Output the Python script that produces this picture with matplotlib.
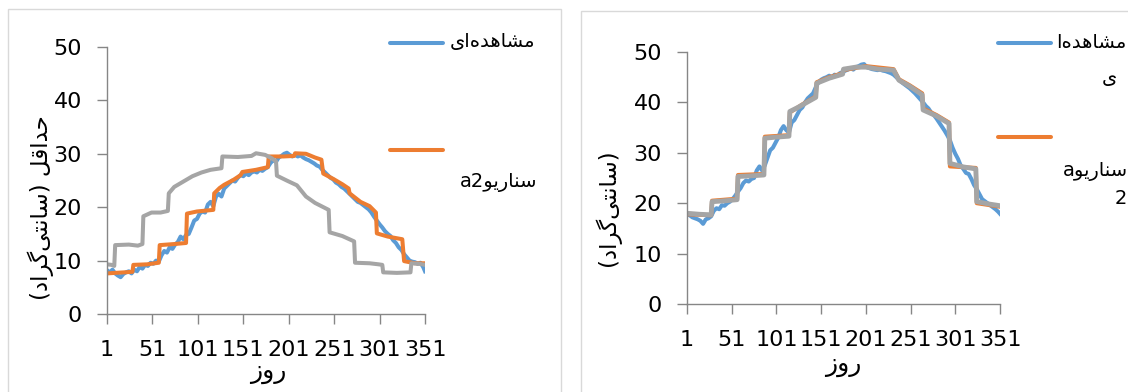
import matplotlib
matplotlib.use("Agg")
import matplotlib.pyplot as plt
from matplotlib.lines import Line2D
from matplotlib.patches import Rectangle

W, H = 1128, 392

BLUE = "#5B9BD5"
ORANGE = "#ED7D31"
GRAY = "#A5A5A5"
AXIS = "#868686"

# observed daily minimum (left) and maximum (right), sampled every 3 days
obs_days = list(range(1, 350, 3)) + [351]
obs_min = [
    8.2, 7.8, 8.3, 7.6, 7.2, 6.9, 7.5, 7.8, 8.0, 7.6,
    8.3, 8.0, 8.8, 8.5, 9.2, 9.0, 9.6, 9.4, 10.0, 9.8,
    11.0, 11.8, 11.5, 12.5, 12.2, 13.0, 13.5, 14.5, 14.0, 14.8,
    15.0, 16.2, 17.5, 17.8, 18.8, 19.2, 19.0, 20.5, 21.0, 20.2,
    22.0, 22.5, 22.0, 23.5, 24.0, 24.5, 25.0, 24.8, 25.5, 26.0,
    25.8, 26.3, 26.0, 26.5, 26.7, 26.5, 27.0, 26.8, 27.2, 27.5,
    28.3, 28.8, 28.5, 29.3, 29.6, 30.0, 30.2, 29.8, 29.5, 29.8,
    29.5, 29.7, 29.3, 29.0, 28.8, 28.5, 28.2, 27.8, 27.6, 27.0,
    26.5, 26.0, 25.5, 25.2, 24.6, 24.3, 23.8, 23.5, 23.0, 22.5,
    22.0, 21.5, 21.0, 20.8, 20.4, 20.0, 19.6, 19.0, 18.2, 17.5,
    16.8, 16.2, 15.5, 15.0, 14.6, 13.8, 13.3, 12.5, 12.0, 11.2,
    10.6, 10.0, 9.8, 9.7, 9.4, 9.6, 8.8, 8.0,
]
obs_max = [
    17.8, 17.6, 17.2, 17.0, 16.8, 16.5, 15.9, 16.8, 17.0, 17.4,
    18.5, 19.0, 18.8, 19.6, 19.5, 20.0, 20.3, 20.8, 21.5, 22.3,
    23.0, 24.0, 24.5, 24.3, 24.8, 25.0, 26.5, 27.3, 26.5, 27.5,
    29.0, 30.5, 31.0, 32.0, 33.0, 34.5, 35.3, 34.5, 34.0, 36.0,
    36.5, 37.5, 38.5, 39.0, 40.0, 40.8, 41.3, 41.8, 43.0, 44.0,
    44.5, 44.8, 45.0, 45.3, 45.0, 45.5, 45.3, 45.8, 46.0, 46.3,
    46.5, 46.8, 46.5, 47.0, 47.2, 47.5, 47.6, 47.0, 46.8, 46.6,
    46.5, 46.4, 46.5, 46.3, 46.2, 46.0, 45.8, 45.5, 45.0, 44.5,
    44.0, 43.6, 43.2, 42.8, 42.3, 41.8, 41.2, 40.6, 40.0, 39.3,
    38.8, 38.0, 37.5, 36.8, 36.0, 35.2, 34.4, 33.5, 32.5, 31.0,
    29.8, 28.8, 27.5, 26.8, 26.0, 25.8, 24.8, 23.6, 22.8, 21.8,
    20.8, 20.4, 20.0, 19.6, 19.2, 18.8, 18.3, 17.9,
]

# scenario a2, minimum
a2_min_days = [1, 10, 20, 29, 30, 45, 58, 59, 75, 88, 89, 100, 118, 119, 125,
               130, 140, 148, 150, 165, 178, 179, 195, 207, 208, 220, 230, 237,
               239, 250, 260, 267, 268, 280, 290, 297, 298, 310, 326, 328, 340, 351]
a2_min = [7.6, 7.7, 7.8, 7.9, 9.2, 9.3, 9.6, 12.9, 13.1, 13.3, 18.8, 19.2, 19.5,
          22.6, 23.6, 24.2, 25.1, 26.0, 26.6, 27.0, 27.5, 29.5, 29.5, 29.6, 30.1,
          30.0, 29.3, 28.9, 26.3, 25.3, 24.3, 23.5, 22.6, 21.0, 20.2, 19.0, 15.1,
          14.5, 14.0, 9.9, 9.5, 9.5]

# third series, minimum
s3_min_days = [1, 6, 9, 10, 25, 35, 40, 41, 50, 60, 68, 69, 75, 85, 95, 105, 115,
               127, 128, 145, 160, 165, 175, 182, 187, 188, 200, 210, 220, 230,
               245, 246, 260, 273, 274, 290, 300, 304, 305, 320, 335, 336, 345, 351]
s3_min = [9.3, 9.2, 9.0, 12.9, 13.0, 12.8, 13.1, 18.3, 19.0, 19.0, 19.3, 22.6,
          23.8, 24.8, 25.8, 26.5, 27.0, 27.3, 29.5, 29.4, 29.6, 30.1, 29.8, 29.2,
          28.6, 25.9, 24.9, 24.1, 22.0, 20.8, 19.5, 15.3, 14.6, 13.6, 9.6, 9.5,
          9.3, 9.2, 7.8, 7.7, 7.8, 9.5, 9.4, 9.2]

# scenario a2, maximum
a2_max_days = [1, 28, 29, 57, 58, 87, 88, 115, 116, 130, 145, 146, 160, 175, 176,
               201, 232, 238, 250, 264, 265, 280, 294, 295, 324, 325, 351]
a2_max = [17.8, 17.6, 20.5, 20.9, 25.6, 25.8, 33.2, 33.5, 38.0, 39.6, 41.2, 44.0,
          45.0, 45.8, 46.4, 47.2, 46.6, 44.6, 43.4, 41.8, 38.8, 37.5, 36.0, 27.3,
          27.0, 20.0, 19.3]

# third series, maximum
s3_max_days = [1, 15, 28, 29, 45, 57, 58, 70, 87, 88, 100, 115, 116, 125, 135,
               145, 146, 160, 175, 176, 190, 201, 215, 232, 238, 250, 264, 265,
               280, 294, 295, 310, 324, 325, 340, 351]
s3_max = [18.0, 17.8, 17.7, 20.3, 20.5, 20.7, 25.3, 25.4, 25.6, 32.9, 33.1, 33.3,
          38.2, 39.0, 40.0, 41.0, 43.8, 44.8, 45.6, 46.6, 47.0, 47.0, 46.6, 46.4,
          44.4, 43.2, 41.5, 38.5, 37.3, 35.8, 27.9, 27.2, 26.8, 20.3, 19.8, 19.5]

x_ticks = [1, 51, 101, 151, 201, 251, 301, 351]
y_ticks = [0, 10, 20, 30, 40, 50]

# presentation forms: isolated, final, initial, medial
FORMS = {
    "ا": ("\uFE8D", "\uFE8E", None, None),
    "د": ("\uFEA9", "\uFEAA", None, None),
    "ر": ("\uFEAD", "\uFEAE", None, None),
    "ز": ("\uFEAF", "\uFEB0", None, None),
    "و": ("\uFEED", "\uFEEE", None, None),
    "س": ("\uFEB1", "\uFEB2", "\uFEB3", "\uFEB4"),
    "ش": ("\uFEB5", "\uFEB6", "\uFEB7", "\uFEB8"),
    "م": ("\uFEE1", "\uFEE2", "\uFEE3", "\uFEE4"),
    "ه": ("\uFEE9", "\uFEEA", "\uFEEB", "\uFEEC"),
    "ن": ("\uFEE5", "\uFEE6", "\uFEE7", "\uFEE8"),
    "ت": ("\uFE95", "\uFE96", "\uFE97", "\uFE98"),
    "ی": ("\uFEEF", "\uFEF0", "\uFEF3", "\uFEF4"),
    "گ": ("\uFB92", "\uFB93", "\uFB94", "\uFB95"),
    "ق": ("\uFED5", "\uFED6", "\uFED7", "\uFED8"),
    "ل": ("\uFEDD", "\uFEDE", "\uFEDF", "\uFEE0"),
    "ح": ("\uFEA1", "\uFEA2", "\uFEA3", "\uFEA4"),
}
MIRROR = {"(": ")", ")": "("}


def rtl(s):
    out = []
    for i, c in enumerate(s):
        if c == "\u200c":
            continue
        if c not in FORMS:
            out.append(MIRROR.get(c, c))
            continue
        prev = s[i - 1] if i > 0 else ""
        nxt = s[i + 1] if i + 1 < len(s) else ""
        dual = FORMS[c][2] is not None
        join_prev = prev in FORMS and FORMS[prev][2] is not None
        join_next = dual and nxt in FORMS
        if join_prev and join_next:
            out.append(FORMS[c][3])
        elif join_prev:
            out.append(FORMS[c][1])
        elif join_next:
            out.append(FORMS[c][2])
        else:
            out.append(FORMS[c][0])
    return "".join(reversed(out))


plt.rcParams["font.family"] = ["DejaVu Sans"]
fig = plt.figure(figsize=(W / 100, H / 100), dpi=100)


def fx(px):
    return px / W


def fy(py):
    return 1 - py / H


def panel(left, right, top, bottom):
    ax = fig.add_axes([fx(left), fy(bottom), (right - left) / W, (bottom - top) / H])
    ax.set_xlim(1, 351)
    ax.set_ylim(0, 50)
    ax.set_xticks(x_ticks)
    ax.set_yticks(y_ticks)
    for side in ["top", "right"]:
        ax.spines[side].set_visible(False)
    for side in ["left", "bottom"]:
        ax.spines[side].set_color(AXIS)
        ax.spines[side].set_linewidth(1)
    ax.tick_params(axis="both", direction="out", length=7, width=1,
                   color=AXIS, labelsize=16, labelcolor="#000000")
    ax.tick_params(axis="y", pad=11)
    ax.tick_params(axis="x", pad=12)
    return ax


lw = 2.9

ax1 = panel(107, 425, 47, 314)
ax1.plot(obs_days, obs_min, color=BLUE, lw=lw)
ax1.plot(a2_min_days, a2_min, color=ORANGE, lw=lw)
ax1.plot(s3_min_days, s3_min, color=GRAY, lw=lw)

ax2 = panel(687, 1000, 52, 304)
ax2.plot(obs_days, obs_max, color=BLUE, lw=lw)
ax2.plot(a2_max_days, a2_max, color=ORANGE, lw=lw)
ax2.plot(s3_max_days, s3_max, color=GRAY, lw=lw + 0.6)

# chart frames
fig.patches.append(Rectangle((fx(8), fy(400)), (561 - 8) / W, (400 - 9) / H,
                             transform=fig.transFigure, fill=False,
                             ec="#D9D9D9", lw=1))
fig.patches.append(Rectangle((fx(581), fy(400)), (1140 - 581) / W, (400 - 11) / H,
                             transform=fig.transFigure, fill=False,
                             ec="#D9D9D9", lw=1))

fs = 14

# axis titles
fig.text(fx(268), fy(372), rtl("روز"), ha="center", va="center", fontsize=18)
fig.text(fx(843), fy(365), rtl("روز"), ha="center", va="center", fontsize=18)
fig.text(fx(41), fy(208), rtl("حداقل (سانتی\u200cگراد)"), rotation=90,
         ha="center", va="center", fontsize=16.5)
fig.text(fx(608), fy(208), rtl("(سانتی\u200cگراد)"), rotation=90,
         ha="center", va="center", fontsize=16.5)


def legend_line(x0, x1, y, color):
    fig.lines.append(Line2D([fx(x0), fx(x1)], [fy(y), fy(y)], color=color,
                            lw=lw, solid_capstyle="round",
                            transform=fig.transFigure))


# left legend
legend_line(390, 443, 43, BLUE)
legend_line(390, 443, 150, ORANGE)
fig.text(fx(535), fy(42), rtl("مشاهده\u200cای"), ha="right", va="center", fontsize=fs)
fig.text(fx(537), fy(182), "a2" + rtl("سناریو"), ha="right", va="center", fontsize=fs)

# right legend
legend_line(998, 1051, 43, BLUE)
legend_line(998, 1051, 137, ORANGE)
fig.text(fx(1126), fy(42), rtl("مشاهده\u200cا"), ha="right", va="center", fontsize=fs)
fig.text(fx(1117), fy(77), rtl("ی"), ha="right", va="center", fontsize=fs)
fig.text(fx(1128), fy(172), "a" + rtl("سناریو"), ha="right", va="center", fontsize=fs)
fig.text(fx(1127), fy(199), "2", ha="right", va="center", fontsize=fs)

fig.savefig("out.png", dpi=100)
